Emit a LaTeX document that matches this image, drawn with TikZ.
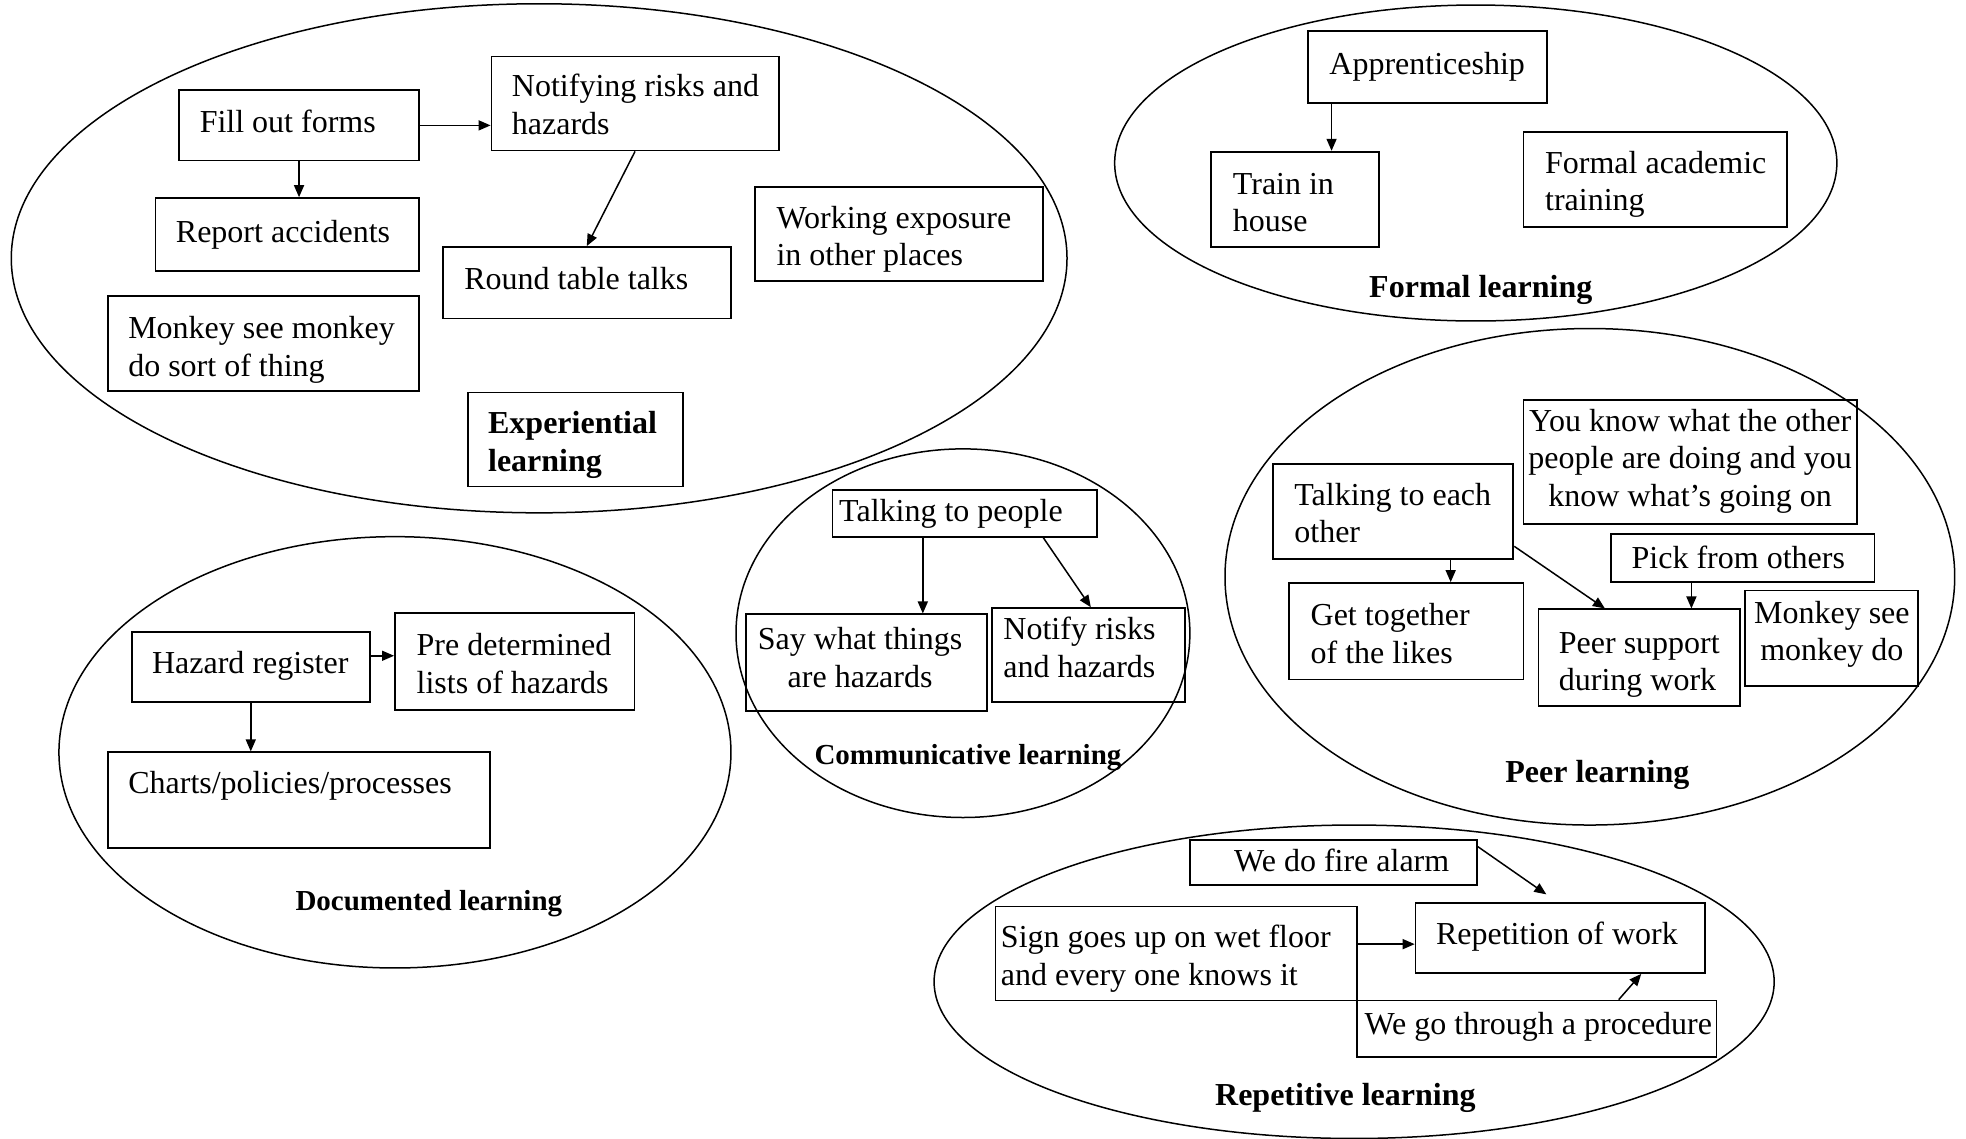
\documentclass[tikz,border=0pt]{standalone}
\usepackage{fontspec}
\setmainfont{Liberation Serif}
\usetikzlibrary{arrows.meta,fit,calc}
\newcommand{\tl}[1]{\begin{tabular}[t]{@{}l@{}}#1\end{tabular}}
\newcommand{\tcc}[1]{\begin{tabular}[t]{@{}c@{}}#1\end{tabular}}
\begin{document}
\begin{tikzpicture}[x=0.6269pt,y=-0.6269pt,
  box/.style={draw, line width=0.9pt, inner sep=0pt},
  txt/.style={inner sep=0pt, yshift=-1.9pt, font=\fontsize{16}{18.8}\selectfont, anchor=base west},
  txtc/.style={txt, anchor=base},
  lbl/.style={inner sep=0pt, yshift=-1.9pt, font=\fontsize{16}{18.8}\selectfont\bfseries, anchor=base},
  lbls/.style={inner sep=0pt, yshift=-1.9pt, font=\fontsize{14.5}{17}\selectfont\bfseries, anchor=base},
  oval/.style={line width=0.75pt},
  arr/.style={-{Triangle[length=6pt,width=5pt]}, line width=0.75pt}]
\path[use as bounding box, fill=white] (0,0) rectangle (1568,908);

% ---------- Experiential learning ----------
\draw[oval] (430,206) ellipse [x radius=421, y radius=203];
\node[box, fit={(143,72) (334,128)}] (fill) {};
\node[txt] (fillT) at (159,103) {Fill out forms};
\node[box, fit={(392,45) (621,120)}] (notify) {};
\node[txt] (notifyT) at (408,74) {\tl{Notifying risks and\\hazards}};
\node[box, fit={(124,158) (334,216)}] (report) {};
\node[txt] (reportT) at (140,190) {Report accidents};
\node[box, fit={(353,197) (583,254)}] (round) {};
\node[txt] (roundT) at (370,228) {Round table talks};
\node[box, fit={(602,149) (832,224)}] (work) {};
\node[txt] (workT) at (619,179) {\tl{Working exposure\\in other places}};
\node[box, fit={(86,236) (334,312)}] (monk1) {};
\node[txt] (monk1T) at (102,267) {\tl{Monkey see monkey\\do sort of thing}};
\node[box, fit={(373,313) (545,388)}] (exp) {};
\node[txt, font=\fontsize{16}{18.8}\selectfont\bfseries] (expT) at (389,343) {\tl{Experiential\\learning}};
\draw[arr] (fill.east) -- (notify.west |- fill.east);
\draw[arr] (fill.south) -- (report.north -| fill.south);
\draw[arr] (notify.south) -- (round.north);

% ---------- Formal learning ----------
\draw[oval] (1177,130) ellipse [x radius=288, y radius=126];
\node[box, fit={(1043,25) (1234,82)}] (appr) {};
\node[txt] (apprT) at (1060,56) {Apprenticeship};
\node[box, fit={(966,121) (1100,197)}] (train) {};
\node[txt] (trainT) at (983,152) {\tl{Train in\\house}};
\node[box, fit={(1215,105) (1425,181)}] (acad) {};
\node[txt] (acadT) at (1232,135) {\tl{Formal academic\\training}};
\node[lbl] (formalL) at (1181,234) {Formal learning};
\draw[arr] (appr.south -| 1062,0) -- (train.north -| 1062,0);

% ---------- Peer learning ----------
\draw[oval] (1268,460) ellipse [x radius=291, y radius=198];
\node[box, fit={(1215,319) (1481,418)}] (know) {};
\node[txtc] (knowT) at (1348,341) {\tcc{You know what the other\\people are doing and you\\know what’s going on}};
\node[box, fit={(1015,370) (1207,446)}] (talk2) {};
\node[txt] (talk2T) at (1032,400) {\tl{Talking to each\\other}};
\node[box, fit={(1285,426) (1495,464)}] (pick) {};
\node[txt] (pickT) at (1301,450) {Pick from others};
\node[box, fit={(1028,465) (1215,542)}] (gett) {};
\node[txt] (gettT) at (1045,496) {\tl{Get together\\of the likes}};
\node[box, fit={(1227,486) (1388,563)}] (peers) {};
\node[txt] (peersT) at (1243,518) {\tl{Peer support\\during work}};
\node[box, fit={(1392,471) (1530,547)}] (monk2) {};
\node[txtc] (monk2T) at (1461,494) {\tcc{Monkey see\\monkey do}};
\node[lbl] (peerL) at (1274,621) {Peer learning};
\draw[arr] (talk2.south -| 1157,0) -- (gett.north -| 1157,0);
\draw[arr] ($(talk2.south east)+(0,-11)$) -- (peers.north -| 1280,0);
\draw[arr] (pick.south -| 1349,0) -- (peers.north -| 1349,0);

% ---------- Communicative learning ----------
\draw[oval] (768,505) ellipse [x radius=181, y radius=147];
\node[box, fit={(664,391) (875,428)}] (talkp) {};
\node[txt] (talkpT) at (669,413) {Talking to people};
\node[box, fit={(595,490) (787,567)}] (say) {};
\node[txtc] (sayT) at (686,515) {\tcc{Say what things\\are hazards}};
\node[box, fit={(791,485) (945,560)}] (notif2) {};
\node[txt] (notif2T) at (800,507) {\tl{Notify risks\\and hazards}};
\node[lbls] (commL) at (772,607) {Communicative learning};
\draw[arr] (talkp.south -| 736,0) -- (say.north -| 736,0);
\draw[arr] (talkp.south -| 832,0) -- (notif2.north -| 870,0);

% ---------- Documented learning ----------
\draw[oval] (315,600) ellipse [x radius=268, y radius=172];
\node[box, fit={(105,504) (295,560)}] (hazr) {};
\node[txt] (hazrT) at (121,534) {Hazard register};
\node[box, fit={(315,489) (506,566)}] (pre) {};
\node[txt] (preT) at (332,520) {\tl{Pre determined\\lists of hazards}};
\node[box, fit={(86,600) (391,676)}] (charts) {};
\node[txt] (chartsT) at (102,630) {Charts/policies/processes};
\node[lbls] (docL) at (342,723) {Documented learning};
\draw[arr] (hazr.east |- 0,523) -- (pre.west |- 0,523);
\draw[arr] (hazr.south) -- (charts.north -| hazr.south);

% ---------- Repetitive learning ----------
\draw[oval] (1080,783) ellipse [x radius=335, y radius=125];
\node[box, fit={(949,670) (1178,706)}] (fire) {};
\node[txt] (fireT) at (984,692) {We do fire alarm};
\node[box, fit={(794,723) (1082,798)}] (sign) {};
\node[txt] (signT) at (798,753) {\tl{Sign goes up on wet floor\\and every one knows it}};
\node[box, fit={(1129,720) (1360,776)}] (rep) {};
\node[txt] (repT) at (1145,750) {Repetition of work};
\node[box, fit={(1082,798) (1369,843)}] (proc) {};
\node[txt] (procT) at (1088,822) {We go through a procedure};
\node[lbl] (repL) at (1073,879) {Repetitive learning};
\draw[arr] ($(fire.north east)+(0,6)$) -- ($(rep.north west)+(105,-6)$);
\draw[arr] (sign.east |- 0,753) -- (rep.west |- 0,753);
\draw[arr] (proc.north -| 1291,0) -- (rep.south -| 1309,0);
\end{tikzpicture}
\end{document}
